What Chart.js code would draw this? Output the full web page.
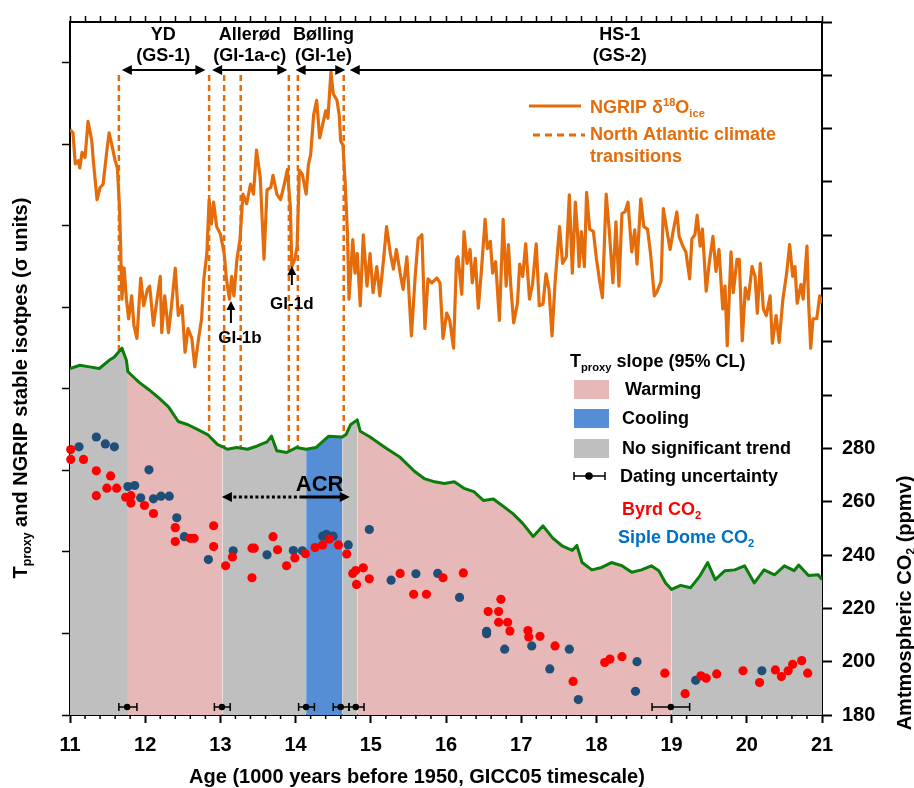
<!DOCTYPE html>
<html>
<head>
<meta charset="utf-8">
<script src="https://cdn.jsdelivr.net/npm/chart.js@4.4.0/dist/chart.umd.min.js"></script>
<style>
html, body { margin: 0; padding: 0; background: #fff; }
</style>
</head>
<body>
<canvas id="chart" width="914" height="788"></canvas>
<script>
// NGRIP d18O (sigma units) vs age (kyr b2k-50)
const ngripAge = [
  11.00,11.04,11.07,11.11,11.13,11.16,11.20,11.24,11.29,11.31,
  11.36,11.40,11.44,11.49,11.52,11.55,11.60,11.63,11.66,11.68,
  11.69,11.72,11.75,11.78,11.82,11.85,11.89,11.94,11.98,12.03,
  12.06,12.11,12.15,12.20,12.22,12.26,12.31,12.35,12.40,12.44,
  12.49,12.53,12.57,12.62,12.66,12.71,12.75,12.78,12.82,12.85,
  12.88,12.91,12.95,13.00,13.05,13.08,13.12,13.15,13.18,13.22,
  13.26,13.30,13.35,13.40,13.44,13.48,13.53,13.58,13.62,13.67,
  13.70,13.75,13.80,13.85,13.89,13.93,13.95,13.99,14.02,14.05,
  14.09,14.14,14.17,14.20,14.24,14.28,14.32,14.36,14.40,14.43,
  14.47,14.50,14.55,14.58,14.60,14.63,14.66,14.69,14.71,14.76,
  14.79,14.82,14.86,14.90,14.95,14.99,15.03,15.08,15.12,15.17,
  15.21,15.26,15.30,15.34,15.39,15.43,15.48,15.54,15.59,15.63,
  15.68,15.72,15.76,15.81,15.88,15.92,15.96,16.01,16.05,16.10,
  16.14,16.16,16.21,16.24,16.28,16.32,16.35,16.39,16.43,16.47,
  16.52,16.55,16.59,16.62,16.66,16.71,16.76,16.80,16.83,16.86,
  16.90,16.95,16.98,17.02,17.06,17.11,17.15,17.20,17.24,17.29,
  17.33,17.37,17.41,17.45,17.51,17.55,17.60,17.64,17.68,17.72,
  17.75,17.77,17.80,17.84,17.87,17.91,17.96,18.00,18.05,18.08,
  18.13,18.17,18.22,18.26,18.30,18.34,18.38,18.42,18.47,18.51,
  18.54,18.59,18.63,18.68,18.72,18.77,18.81,18.86,18.89,18.94,
  18.98,19.02,19.07,19.10,19.15,19.19,19.24,19.27,19.31,19.34,
  19.38,19.41,19.46,19.50,19.55,19.59,19.63,19.68,19.71,19.74,
  19.79,19.82,19.87,19.90,19.94,19.98,20.02,20.07,20.11,20.14,
  20.18,20.22,20.26,20.31,20.34,20.39,20.43,20.48,20.53,20.57,
  20.61,20.64,20.67,20.72,20.75,20.80,20.82,20.85,20.88,20.93,
  20.97,21.00
];
const ngripIso = [
  3.18,3.14,2.76,2.80,2.71,2.90,2.84,3.28,3.04,2.80,
  2.32,2.47,2.51,2.92,3.14,3.02,2.80,2.71,2.19,1.50,
  1.10,1.48,1.10,0.86,1.14,0.78,0.62,1.36,1.02,1.22,
  1.26,0.78,1.05,1.38,0.69,1.14,0.69,1.02,1.48,0.90,
  1.02,0.45,0.74,0.62,0.27,0.62,0.86,1.35,1.66,2.32,
  2.02,2.29,1.99,1.90,1.66,1.35,1.10,1.38,1.14,1.59,
  1.83,2.39,2.27,2.51,2.39,2.93,2.59,1.59,2.44,2.47,
  2.62,2.39,2.32,2.51,2.69,2.23,1.50,1.59,1.75,2.68,
  2.63,2.39,2.75,2.87,3.36,3.54,3.08,3.24,3.41,3.32,
  3.89,3.62,3.54,3.36,3.04,2.99,2.51,1.90,1.10,1.83,
  1.42,1.66,1.02,1.89,1.26,1.66,1.18,1.50,1.14,1.59,
  1.99,1.66,1.47,1.71,1.42,1.22,1.62,0.65,1.38,1.84,
  1.89,0.74,1.35,1.30,1.36,1.30,0.62,0.93,0.84,0.50,
  1.59,1.62,1.16,1.93,1.54,1.71,1.30,1.60,0.99,1.44,
  2.08,1.72,1.81,1.42,1.56,0.84,2.08,1.26,1.77,1.28,
  0.81,1.05,1.53,1.38,1.78,1.10,1.28,1.78,1.02,1.04,
  1.41,1.22,0.65,1.30,1.99,1.54,1.62,2.38,1.42,2.29,
  1.90,1.50,1.93,1.50,2.41,1.96,1.93,1.60,1.28,1.12,
  2.39,1.95,1.30,2.05,1.26,2.15,2.17,2.29,1.68,1.95,
  1.53,2.33,1.99,1.96,1.66,1.14,1.20,1.32,2.21,1.93,
  1.71,1.93,2.17,1.87,1.75,1.68,1.35,1.84,1.89,2.13,
  1.75,1.96,1.20,1.54,1.87,1.44,1.71,0.98,1.26,0.53,
  1.68,1.18,1.59,1.59,0.59,1.24,1.10,1.50,1.38,0.93,
  1.54,0.98,0.90,1.14,0.56,0.90,0.57,1.10,1.42,1.77,
  1.38,1.50,1.05,1.28,1.10,1.75,1.10,0.50,0.86,0.86,
  1.14,1.05
];

// Tproxy stack (sigma units)
const tproxyAge = [
  11.00,11.13,11.26,11.39,11.52,11.59,11.69,11.75,11.77,11.92,
  12.05,12.18,12.31,12.44,12.57,12.70,12.83,12.96,13.03,13.09,
  13.22,13.36,13.49,13.62,13.68,13.75,13.88,14.01,14.14,14.27,
  14.44,14.62,14.67,14.73,14.82,14.86,14.99,15.19,15.39,15.58,
  15.71,15.85,15.98,16.11,16.24,16.37,16.50,16.63,16.76,16.89,
  17.02,17.16,17.29,17.42,17.55,17.68,17.74,17.81,17.94,18.07,
  18.20,18.34,18.47,18.60,18.73,18.83,18.92,19.00,19.12,19.25,
  19.38,19.48,19.58,19.71,19.84,19.97,20.10,20.23,20.37,20.50,
  20.63,20.69,20.82,20.95,21.00
];
const tproxyVal = [
  0.25,0.29,0.27,0.25,0.35,0.39,0.50,0.35,0.21,0.08,
  -0.01,-0.11,-0.22,-0.40,-0.44,-0.50,-0.56,-0.68,-0.71,-0.74,
  -0.72,-0.74,-0.70,-0.65,-0.58,-0.76,-0.78,-0.72,-0.74,-0.72,
  -0.58,-0.59,-0.56,-0.44,-0.38,-0.52,-0.59,-0.72,-0.84,-1.01,
  -1.10,-1.14,-1.16,-1.14,-1.22,-1.26,-1.37,-1.35,-1.44,-1.53,
  -1.65,-1.81,-1.68,-1.83,-1.93,-1.98,-1.92,-2.13,-2.22,-2.19,
  -2.13,-2.17,-2.25,-2.22,-2.17,-2.23,-2.38,-2.46,-2.41,-2.44,
  -2.29,-2.13,-2.34,-2.23,-2.22,-2.17,-2.38,-2.22,-2.28,-2.17,
  -2.23,-2.16,-2.29,-2.28,-2.34
];

// CO2 records (ppmv)
const byrdAge = [11.01,11.01,11.18,11.35,11.35,11.49,11.54,11.62,11.74,11.81,11.81,11.99,12.11,12.40,12.40,12.60,12.65,12.91,12.91,13.07,13.16,13.42,13.45,13.42,13.70,13.76,13.88,13.99,14.13,14.26,14.36,14.45,14.57,14.68,14.76,14.80,14.81,14.90,14.98,15.39,15.57,15.74,15.96,16.23,16.56,16.70,16.73,16.70,16.82,16.85,17.09,17.10,17.25,17.45,17.69,18.11,18.18,18.34,18.91,19.18,19.39,19.46,19.60,19.95,20.17,20.38,20.46,20.55,20.61,20.73,20.81];
const byrdCO2 = [279.6,275.9,275.9,271.6,262.3,265.1,269.7,265.1,261.7,262.3,259.5,258.6,255.6,250.3,245.1,246.3,246.3,251.0,243.2,236.0,239.3,242.6,242.6,231.5,246.9,242.0,236.0,238.9,240.5,242.8,243.8,246.0,243.8,240.4,233.1,234.2,229.0,235.2,231.1,233.1,225.3,225.3,231.5,233.3,218.8,218.8,223.4,214.8,214.8,211.5,211.7,209.3,209.5,205.9,192.6,199.7,201.0,201.9,195.7,188.0,194.7,193.8,195.4,196.6,192.2,196.9,194.4,196.6,199.0,200.4,195.7];
const sipleAge = [11.12,11.35,11.47,11.59,11.77,11.86,11.94,12.05,12.11,12.21,12.32,12.42,12.52,12.84,13.17,13.62,13.97,14.09,14.36,14.41,14.50,14.70,14.98,15.27,15.60,15.89,16.18,16.54,16.54,16.78,17.14,17.38,17.64,17.76,18.54,18.52,19.32,20.20];
const sipleCO2 = [280.6,284.3,281.7,280.6,265.7,266.1,261.5,272.0,261.1,262.1,262.1,254.0,246.9,238.3,241.6,240.1,241.7,241.6,247.1,247.8,247.1,243.8,249.6,230.6,233.0,233.1,224.1,211.4,210.5,204.7,205.9,197.3,204.7,185.8,200.0,188.9,193.0,196.6];

// Tproxy slope intervals
const bandStart = [11.00, 11.77, 13.03, 14.14, 14.62, 14.82, 19.00];
const bandEnd   = [11.77, 13.03, 14.14, 14.62, 14.82, 19.00, 21.00];
const bandTrend = ['none', 'warm', 'none', 'cool', 'none', 'warm', 'none'];

// dating uncertainty of interval boundaries
const errAge = [11.76, 13.02, 14.14, 14.60, 14.80, 18.99];
const errLo  = [11.65, 12.92, 14.04, 14.50, 14.71, 18.74];
const errHi  = [11.89, 13.13, 14.25, 14.71, 14.91, 19.24];

// North Atlantic climate transitions
const transitions = [11.65, 12.85, 13.05, 13.27, 13.91, 14.03, 14.64];

// climate periods at the top
const periodName  = ['YD', 'Allerød', 'Bølling', 'HS-1'];
const periodSub   = ['(GS-1)', '(GI-1a-c)', '(GI-1e)', '(GS-2)'];
const periodFrom  = [11.69, 12.89, 14.00, 14.72];
const periodTo    = [12.80, 13.89, 14.66, 21.00];
const periodLabel = [12.24, 13.39, 14.37, 18.31];

const acrFrom = 13.02, acrTo = 14.72, acrSolidFrom = 14.07;

const ORANGE = '#e46c0a';
const GREEN = '#0b7d0b';
const RED = '#ff0000';
const NAVY = '#1f4e79';
const SIPLE_TEXT = '#0070c0';
const trendColor = { warm: '#e6b9b8', cool: '#558ed5', none: '#bfbfbf' };
const FONT = '"Liberation Sans", Arial, sans-serif';

const pairs = (xs, ys) => xs.map((v, i) => ({ x: v, y: ys[i] }));

function tproxyAt(t) {
  for (let i = 1; i < tproxyAge.length; i++) {
    if (t <= tproxyAge[i]) {
      const f = (t - tproxyAge[i - 1]) / (tproxyAge[i] - tproxyAge[i - 1]);
      return tproxyVal[i - 1] + f * (tproxyVal[i] - tproxyVal[i - 1]);
    }
  }
  return tproxyVal[tproxyVal.length - 1];
}

// text with sub/superscripts: parts = [[text, 0 normal | 1 sub | 2 sup], ...]
function rich(ctx, parts, x, y, size, color, align) {
  const sizes = parts.map(p => p[1] ? size * 0.62 : size);
  const widths = parts.map((p, i) => {
    ctx.font = 'bold ' + sizes[i] + 'px ' + FONT;
    return ctx.measureText(p[0]).width;
  });
  const total = widths.reduce((s, w) => s + w, 0);
  let cx = align === 'center' ? x - total / 2 : x;
  ctx.fillStyle = color;
  ctx.textAlign = 'left';
  ctx.textBaseline = 'middle';
  parts.forEach((p, i) => {
    ctx.font = 'bold ' + sizes[i] + 'px ' + FONT;
    const dy = p[1] === 1 ? size * 0.32 : p[1] === 2 ? -size * 0.3 : 0;
    ctx.fillText(p[0], cx, y + dy);
    cx += widths[i];
  });
}

function head(ctx, x, y, dir, len, hw) {
  ctx.beginPath();
  ctx.moveTo(x, y);
  ctx.lineTo(x - dir * len, y - hw);
  ctx.lineTo(x - dir * len, y + hw);
  ctx.closePath();
  ctx.fill();
}

function seg(ctx, x1, y1, x2, y2) {
  ctx.beginPath();
  ctx.moveTo(x1, y1);
  ctx.lineTo(x2, y2);
  ctx.stroke();
}

const underlay = {
  id: 'underlay',
  beforeDatasetsDraw(chart) {
    const { ctx, chartArea: a, scales: { x, y } } = chart;
    ctx.save();
    ctx.strokeStyle = ORANGE;
    ctx.lineWidth = 2.5;
    ctx.setLineDash([6, 4]);
    transitions.forEach(t => {
      const px = x.getPixelForValue(t);
      seg(ctx, px, a.top + 53, px, y.getPixelForValue(tproxyAt(t)));
    });
    ctx.restore();
  }
};

const overlay = {
  id: 'overlay',
  afterDraw(chart) {
    const { ctx, chartArea: a, scales: { x, y } } = chart;
    const X = v => x.getPixelForValue(v);
    ctx.save();

    // minor ticks on the age axis
    ctx.strokeStyle = '#000';
    ctx.lineWidth = 1.5;
    for (let i = 0; i <= 50; i++) {
      if (i % 5 === 0) continue;
      const px = X(11 + i * 0.2);
      seg(ctx, px, a.bottom, px, a.bottom + 4);
    }

    // climate periods
    ctx.fillStyle = '#000';
    ctx.lineWidth = 2;
    const ay = a.top + 48;
    periodName.forEach((n, i) => {
      const x1 = X(periodFrom[i]), x2 = X(periodTo[i]);
      const last = i === periodName.length - 1;
      seg(ctx, x1 + 4, ay, last ? x2 : x2 - 4, ay);
      head(ctx, x1, ay, -1, 10, 5);
      if (!last) head(ctx, x2, ay, 1, 10, 5);
      rich(ctx, [[n, 0]], X(periodLabel[i]), a.top + 13, 18, '#000', 'center');
      rich(ctx, [[periodSub[i], 0]], X(periodLabel[i]), a.top + 34, 18, '#000', 'center');
    });

    // GI-1b / GI-1d markers
    ctx.fillStyle = '#000';
    ctx.lineWidth = 2;
    [[13.14, 13.26, 323, 301, 338, 'GI-1b'], [13.95, 13.95, 285, 266, 304, 'GI-1d']].forEach(m => {
      const px = X(m[0]);
      seg(ctx, px, m[2], px, m[3] + 6);
      ctx.beginPath();
      ctx.moveTo(px, m[3]);
      ctx.lineTo(px - 4.5, m[3] + 9);
      ctx.lineTo(px + 4.5, m[3] + 9);
      ctx.closePath();
      ctx.fill();
      rich(ctx, [[m[5], 0]], X(m[1]), m[4], 17, '#000', 'center');
    });

    // ACR arrow
    const ry = 497;
    ctx.strokeStyle = '#000';
    ctx.lineWidth = 3;
    ctx.setLineDash([3, 2.5]);
    seg(ctx, X(acrFrom) + 6, ry, X(acrSolidFrom), ry);
    ctx.setLineDash([]);
    seg(ctx, X(acrSolidFrom), ry, X(acrTo) - 6, ry);
    ctx.fillStyle = '#000';
    head(ctx, X(acrFrom), ry, -1, 10, 5);
    head(ctx, X(acrTo), ry, 1, 10, 5);
    rich(ctx, [['ACR', 0]], X(14.32), 485, 22, '#000', 'center');

    // dating uncertainty bars
    const ey = a.bottom - 8;
    ctx.lineWidth = 1.5;
    errAge.forEach((v, i) => {
      const l = X(errLo[i]), h = X(errHi[i]);
      seg(ctx, l, ey, h, ey);
      seg(ctx, l, ey - 4, l, ey + 4);
      seg(ctx, h, ey - 4, h, ey + 4);
      ctx.beginPath();
      ctx.arc(X(v), ey, 3.2, 0, Math.PI * 2);
      ctx.fill();
    });

    // NGRIP legend
    ctx.strokeStyle = ORANGE;
    ctx.lineWidth = 3;
    seg(ctx, 529, 106, 581, 106);
    ctx.setLineDash([7, 5]);
    seg(ctx, 533, 135, 585, 135);
    ctx.setLineDash([]);
    rich(ctx, [['NGRIP δ', 0], ['18', 2], ['O', 0], ['ice', 1]], 590, 108, 18, ORANGE, 'left');
    rich(ctx, [['North Atlantic climate', 0]], 590, 135, 18, ORANGE, 'left');
    rich(ctx, [['transitions', 0]], 590, 157, 18, ORANGE, 'left');

    // Tproxy legend
    rich(ctx, [['T', 0], ['proxy', 1], [' slope (95% CL)', 0]], 570, 362, 18, '#000', 'left');
    [['warm', 'Warming', 380, 625], ['cool', 'Cooling', 409, 622], ['none', 'No significant trend', 439, 622]].forEach(r => {
      ctx.fillStyle = trendColor[r[0]];
      ctx.fillRect(574, r[2], 35, 19);
      rich(ctx, [[r[1], 0]], r[3], r[2] + 10, 18, '#000', 'left');
    });
    ctx.strokeStyle = '#000';
    ctx.fillStyle = '#000';
    ctx.lineWidth = 1.5;
    seg(ctx, 574, 476, 605, 476);
    seg(ctx, 574, 472, 574, 480);
    seg(ctx, 605, 472, 605, 480);
    ctx.beginPath();
    ctx.arc(589, 476, 3.8, 0, Math.PI * 2);
    ctx.fill();
    rich(ctx, [['Dating uncertainty', 0]], 620, 477, 18, '#000', 'left');
    rich(ctx, [['Byrd CO', 0], ['2', 1]], 622, 510, 18, RED, 'left');
    rich(ctx, [['Siple Dome CO', 0], ['2', 1]], 618, 538, 18, SIPLE_TEXT, 'left');

    // axis titles
    rich(ctx, [['Age (1000 years before 1950, GICC05 timescale)', 0]], 417, 777, 20, '#000', 'center');
    ctx.save();
    ctx.translate(21, 388);
    ctx.rotate(-Math.PI / 2);
    rich(ctx, [['T', 0], ['proxy', 1], [' and NGRIP stable isotpes (σ units)', 0]], 0, 0, 20, '#000', 'center');
    ctx.restore();
    ctx.save();
    ctx.translate(905, 603);
    ctx.rotate(-Math.PI / 2);
    rich(ctx, [['Amtmospheric CO', 0], ['2', 1], [' (ppmv)', 0]], 0, 0, 20, '#000', 'center');
    ctx.restore();

    ctx.restore();
  }
};

const bandSets = bandStart.map((s, i) => ({
  type: 'line',
  data: pairs(tproxyAge, tproxyVal).filter(p => p.x >= s && p.x <= bandEnd[i]),
  yAxisID: 'y',
  borderWidth: 0,
  pointRadius: 0,
  backgroundColor: trendColor[bandTrend[i]],
  fill: 'start',
  order: 3
}));

const tickFont = { family: FONT, size: 20, weight: 'bold' };

new Chart(document.getElementById('chart'), {
  type: 'line',
  data: {
    datasets: [
      { type: 'scatter', data: pairs(byrdAge, byrdCO2), yAxisID: 'y2', pointRadius: 4.6, backgroundColor: RED, borderWidth: 0, clip: false, order: 0 },
      { type: 'scatter', data: pairs(sipleAge, sipleCO2), yAxisID: 'y2', pointRadius: 4.6, backgroundColor: NAVY, borderWidth: 0, clip: false, order: 0 },
      { data: pairs(ngripAge, ngripIso), yAxisID: 'y', borderColor: ORANGE, borderWidth: 3.2, pointRadius: 0, fill: false, tension: 0, borderJoinStyle: 'round', order: 1 },
      { data: pairs(tproxyAge, tproxyVal), yAxisID: 'y', borderColor: GREEN, borderWidth: 3, pointRadius: 0, fill: false, tension: 0, borderJoinStyle: 'round', order: 2 },
      ...bandSets
    ]
  },
  options: {
    responsive: false,
    devicePixelRatio: 1,
    animation: false,
    layout: { padding: 0 },
    plugins: { legend: { display: false }, tooltip: { enabled: false } },
    scales: {
      x: {
        type: 'linear', position: 'bottom', min: 11, max: 21,
        ticks: { stepSize: 1, font: tickFont, color: '#000', padding: 10, maxRotation: 0 },
        grid: { drawOnChartArea: false, tickLength: 8, tickColor: '#000', tickWidth: 2 },
        border: { color: '#000', width: 2 },
        afterFit(s) { s.height = 73; }
      },
      x2: {
        type: 'linear', position: 'top', min: 11, max: 21,
        ticks: { display: false, stepSize: 0.2 },
        grid: { drawOnChartArea: false, tickLength: 6, tickColor: '#000', tickWidth: 1.5 },
        border: { color: '#000', width: 2 },
        afterFit(s) { s.height = 14; }
      },
      y: {
        type: 'linear', position: 'left', min: -4, max: 4.5,
        ticks: { display: false, stepSize: 1 },
        afterBuildTicks(s) { s.ticks = s.ticks.filter(t => Number.isInteger(t.value)); },
        grid: { drawOnChartArea: false, tickLength: 8, tickColor: '#000', tickWidth: 1.5 },
        border: { color: '#000', width: 2 },
        afterFit(s) { s.width = 70; }
      },
      y2: {
        type: 'linear', position: 'right', min: 180, max: 440,
        ticks: { stepSize: 20, font: tickFont, color: '#000', padding: 10, callback: v => (v <= 280 ? v : '') },
        grid: { drawOnChartArea: false, tickLength: 10, tickColor: '#000', tickWidth: 2 },
        border: { color: '#000', width: 2 },
        afterFit(s) { s.width = 92; }
      }
    }
  },
  plugins: [underlay, overlay]
});
</script>
</body>
</html>
